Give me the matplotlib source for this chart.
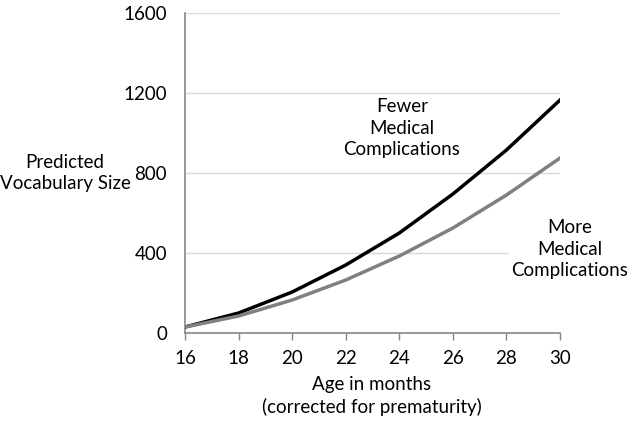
import matplotlib.pyplot as plt

plt.rcParams['font.family'] = ['Lato', 'DejaVu Sans']

ages = [16, 18, 20, 22, 24, 26, 28, 30]
fewer = [30, 100, 205, 340, 500, 695, 915, 1165]
more = [30, 85, 165, 265, 385, 525, 690, 875]
yticks = [0, 400, 800, 1200, 1600]

fig = plt.figure(figsize=(6.3, 4.21), dpi=100)
ax = fig.add_axes([0.2937, 0.209, 0.5952, 0.760])

for y in yticks[1:]:
    ax.axhline(y, color='#d9d9d9', lw=1, zorder=0)

ax.plot(ages, fewer, color='black', lw=2.5, zorder=3)
ax.plot(ages, more, color='#808080', lw=2.5, zorder=3)

ax.set_xlim(16, 30)
ax.set_ylim(0, 1600)
ax.set_xticks(ages)
ax.set_yticks(yticks)
ax.tick_params(axis='x', length=5, width=1, color='#868686', labelsize=13.5, pad=7)
ax.tick_params(axis='y', length=0, labelsize=13.5, pad=13)

for s in ['top', 'right']:
    ax.spines[s].set_visible(False)
for s in ['left', 'bottom']:
    ax.spines[s].set_color('#868686')
    ax.spines[s].set_linewidth(1.2)

box = dict(facecolor='white', edgecolor='none', pad=2)
ax.text(24.1, 1025, "Fewer\nMedical\nComplications", ha='center', va='center',
        fontsize=13.5, linespacing=1.3, bbox=box, zorder=2)
ax.text(30.37, 420, "More\nMedical\nComplications", ha='center', va='center',
        fontsize=13.5, linespacing=1.3, bbox=box, zorder=2, clip_on=False)

fig.text(65 / 630, 1 - 173 / 421, "Predicted\nVocabulary Size", ha='center', va='center',
         fontsize=13.5, linespacing=1.3)
fig.text(372 / 630, 1 - 396 / 421, "Age in months\n(corrected for prematurity)", ha='center',
         va='center', fontsize=13.5, linespacing=1.3)

fig.savefig('out.png', dpi=100)
